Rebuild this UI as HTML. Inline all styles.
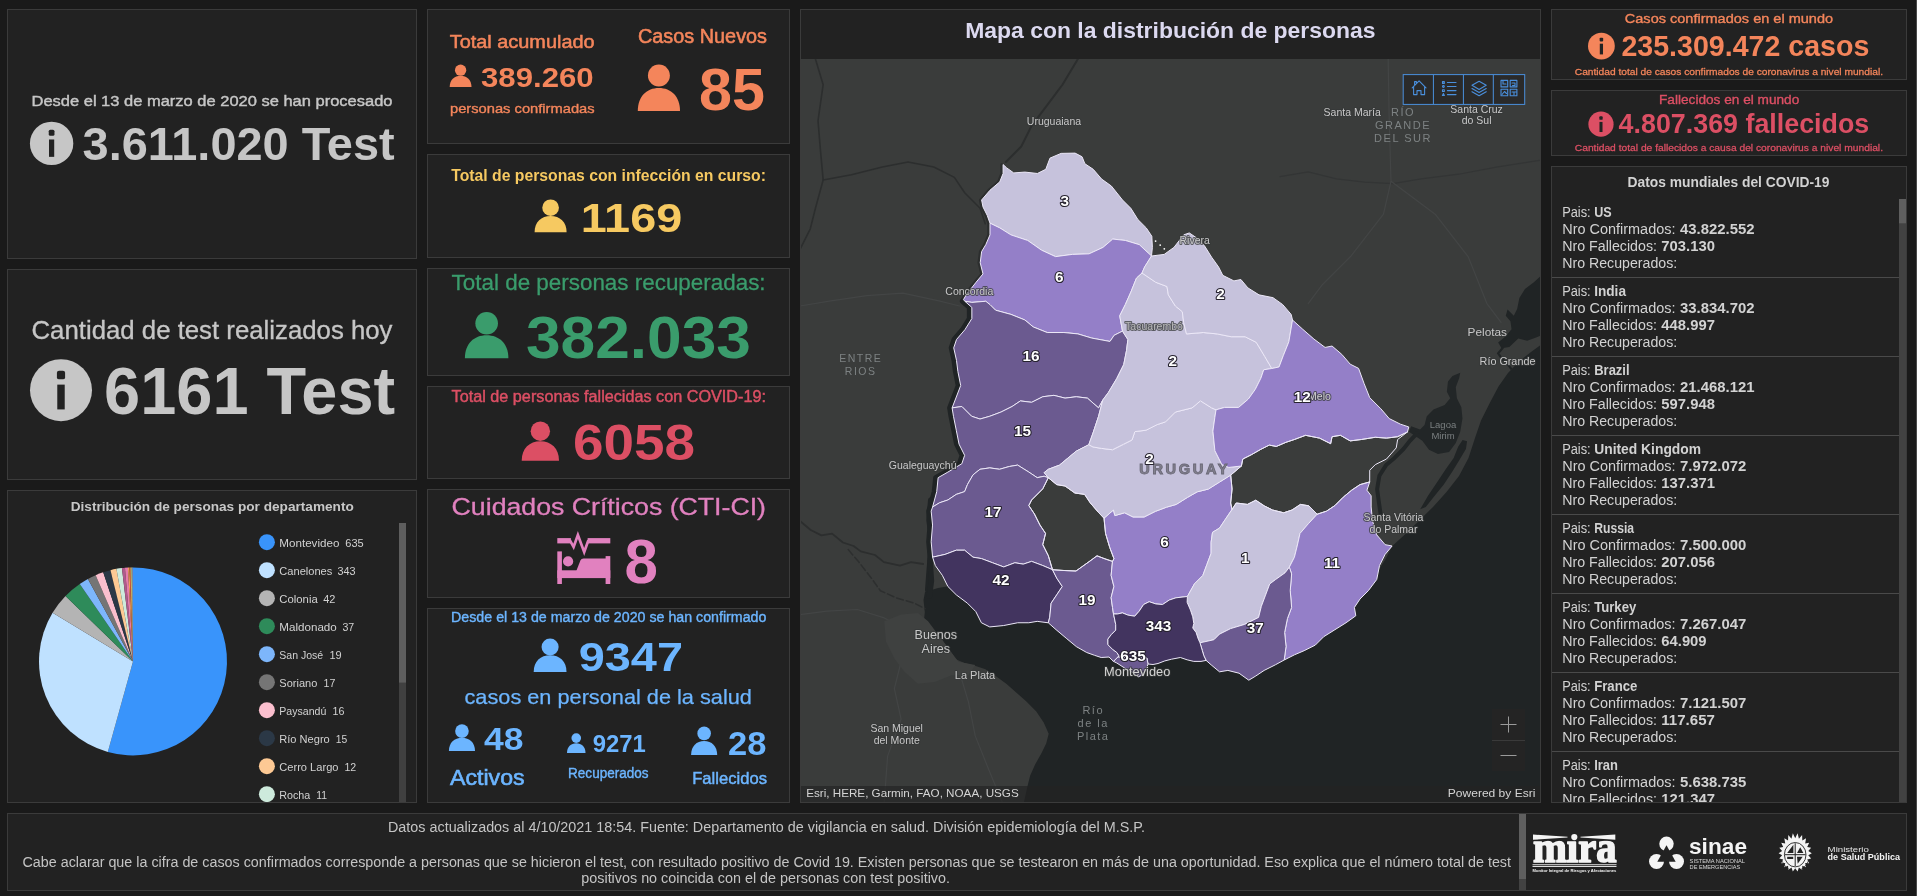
<!DOCTYPE html>
<html lang="es"><head><meta charset="utf-8"><title>Visualizador COVID-19 Uruguay</title>
<style>
html,body{margin:0;padding:0;background:#1a1a1a;overflow:hidden}
body{width:1917px;height:896px;position:relative;font-family:'Liberation Sans',Arial,sans-serif}
.panel{position:absolute;box-sizing:border-box;background:#222222;border:1px solid #3b3b3b;overflow:hidden}
.ps{position:absolute;left:-1px;top:-1px;display:block;will-change:transform;font-family:'Liberation Sans',Arial,sans-serif}
text{white-space:pre}
</style></head>
<body>
<div class="panel" style="left:7px;top:9px;width:410px;height:250px;"><svg class="ps" width="410" height="250" viewBox="7 9 410 250"><text x="31.5" y="106.2" font-size="15.36" textLength="361" lengthAdjust="spacingAndGlyphs" fill="#c6c6c6" stroke="#c6c6c6" stroke-width="0.43">Desde el 13 de marzo de 2020 se han procesado</text><circle cx="51.6" cy="143.4" r="21.7" fill="#c6c6c6"/><rect x="49" y="139.49" width="5.21" height="17.36" fill="#222222"/><rect x="48.74" y="129.73" width="5.73" height="6.08" rx="1.52" fill="#222222"/><text x="82.6" y="160.3" font-size="46.9" textLength="312" lengthAdjust="spacingAndGlyphs" fill="#c6c6c6" font-weight="bold">3.611.020 Test</text></svg></div>
<div class="panel" style="left:7px;top:269px;width:410px;height:211px;"><svg class="ps" width="410" height="211" viewBox="7 269 410 211"><text x="31.5" y="338.6" font-size="25.65" textLength="361" lengthAdjust="spacingAndGlyphs" fill="#c6c6c6" stroke="#c6c6c6" stroke-width="0.33">Cantidad de test realizados hoy</text><circle cx="61" cy="390.2" r="31" fill="#c6c6c6"/><rect x="57.28" y="384.62" width="7.44" height="24.8" fill="#222222"/><rect x="56.91" y="370.67" width="8.18" height="8.68" rx="2.17" fill="#222222"/><text x="104.1" y="413.8" font-size="66.2" textLength="291.1" lengthAdjust="spacingAndGlyphs" fill="#c6c6c6" font-weight="bold">6161 Test</text></svg></div>
<div class="panel" style="left:7px;top:490px;width:410px;height:313px;"><svg class="ps" width="410" height="313" viewBox="7 490 410 313"><text x="70.7" y="510.9" font-size="13.62" textLength="283.1" lengthAdjust="spacingAndGlyphs" fill="#c8c8c8" font-weight="bold">Distribución de personas por departamento</text><path d="M133,661.4 L133,567.4 A94,94 0 1 1 107.8,751.96 Z" fill="#3994fb"/><path d="M133,661.4 L107.8,751.96 A94,94 0 0 1 52.58,612.73 Z" fill="#bfe1ff"/><path d="M133,661.4 L52.58,612.73 A94,94 0 0 1 65.51,595.97 Z" fill="#b4b4b4"/><path d="M133,661.4 L65.51,595.97 A94,94 0 0 1 79.77,583.92 Z" fill="#2e8b5a"/><path d="M133,661.4 L79.77,583.92 A94,94 0 0 1 87.95,578.9 Z" fill="#7db6fb"/><path d="M133,661.4 L87.95,578.9 A94,94 0 0 1 95.66,575.13 Z" fill="#757575"/><path d="M133,661.4 L95.66,575.13 A94,94 0 0 1 103.21,572.25 Z" fill="#fbbfce"/><path d="M133,661.4 L103.21,572.25 A94,94 0 0 1 110.49,570.14 Z" fill="#2b3846"/><path d="M133,661.4 L110.49,570.14 A94,94 0 0 1 116.41,568.87 Z" fill="#fdc994"/><path d="M133,661.4 L116.41,568.87 A94,94 0 0 1 121.91,568.06 Z" fill="#cdeadc"/><path d="M133,661.4 L121.91,568.06 A94,94 0 0 1 124.93,567.75 Z" fill="#b05a8c"/><path d="M133,661.4 L124.93,567.75 A94,94 0 0 1 127.95,567.54 Z" fill="#e57bab"/><path d="M133,661.4 L127.95,567.54 A94,94 0 0 1 129.46,567.47 Z" fill="#f2a05c"/><path d="M133,661.4 L129.46,567.47 A94,94 0 0 1 130.47,567.43 Z" fill="#e2583e"/><path d="M133,661.4 L130.47,567.43 A94,94 0 0 1 131.48,567.41 Z" fill="#f7d06a"/><path d="M133,661.4 L131.48,567.41 A94,94 0 0 1 132.49,567.4 Z" fill="#8fd0c0"/><path d="M133,661.4 L132.49,567.4 A94,94 0 0 1 133,567.4 Z" fill="#9b8fd6"/><circle cx="266.9" cy="542.2" r="8" fill="#3994fb"/><text x="279.3" y="546.9" font-size="11.45" textLength="60.1" lengthAdjust="spacingAndGlyphs" fill="#d2d2d2">Montevideo</text><text x="345.3" y="546.9" font-size="11.13" textLength="18.4" lengthAdjust="spacingAndGlyphs" fill="#d2d2d2">635</text><circle cx="266.9" cy="570.2" r="8" fill="#bfe1ff"/><text x="279.3" y="574.9" font-size="11.45" textLength="53" lengthAdjust="spacingAndGlyphs" fill="#d2d2d2">Canelones</text><text x="337.5" y="574.9" font-size="11.13" textLength="18.1" lengthAdjust="spacingAndGlyphs" fill="#d2d2d2">343</text><circle cx="266.9" cy="598.2" r="8" fill="#b4b4b4"/><text x="279.3" y="602.9" font-size="11.45" textLength="38.4" lengthAdjust="spacingAndGlyphs" fill="#d2d2d2">Colonia</text><text x="323.2" y="602.9" font-size="11.13" textLength="12.2" lengthAdjust="spacingAndGlyphs" fill="#d2d2d2">42</text><circle cx="266.9" cy="626.2" r="8" fill="#2e8b5a"/><text x="279.3" y="630.9" font-size="11.45" textLength="57.5" lengthAdjust="spacingAndGlyphs" fill="#d2d2d2">Maldonado</text><text x="342.4" y="630.9" font-size="11.13" textLength="11.8" lengthAdjust="spacingAndGlyphs" fill="#d2d2d2">37</text><circle cx="266.9" cy="654.2" r="8" fill="#7db6fb"/><text x="279.3" y="658.9" font-size="11.45" textLength="43.9" lengthAdjust="spacingAndGlyphs" fill="#d2d2d2">San José</text><text x="329.5" y="658.9" font-size="11.13" textLength="12.2" lengthAdjust="spacingAndGlyphs" fill="#d2d2d2">19</text><circle cx="266.9" cy="682.2" r="8" fill="#757575"/><text x="279.3" y="686.9" font-size="11.45" textLength="38" lengthAdjust="spacingAndGlyphs" fill="#d2d2d2">Soriano</text><text x="323.6" y="686.9" font-size="11.13" textLength="11.8" lengthAdjust="spacingAndGlyphs" fill="#d2d2d2">17</text><circle cx="266.9" cy="710.2" r="8" fill="#fbbfce"/><text x="279.3" y="714.9" font-size="11.45" textLength="47" lengthAdjust="spacingAndGlyphs" fill="#d2d2d2">Paysandú</text><text x="332.6" y="714.9" font-size="11.13" textLength="11.9" lengthAdjust="spacingAndGlyphs" fill="#d2d2d2">16</text><circle cx="266.9" cy="738.2" r="8" fill="#2b3846"/><text x="279.3" y="742.9" font-size="11.45" textLength="50.5" lengthAdjust="spacingAndGlyphs" fill="#d2d2d2">Río Negro</text><text x="335.7" y="742.9" font-size="11.13" textLength="11.5" lengthAdjust="spacingAndGlyphs" fill="#d2d2d2">15</text><circle cx="266.9" cy="766.2" r="8" fill="#fdc994"/><text x="279.3" y="770.9" font-size="11.45" textLength="59.2" lengthAdjust="spacingAndGlyphs" fill="#d2d2d2">Cerro Largo</text><text x="344.4" y="770.9" font-size="11.13" textLength="11.8" lengthAdjust="spacingAndGlyphs" fill="#d2d2d2">12</text><circle cx="266.9" cy="794.2" r="8" fill="#cdeadc"/><text x="279.3" y="798.9" font-size="11.45" textLength="31" lengthAdjust="spacingAndGlyphs" fill="#d2d2d2">Rocha</text><text x="316.2" y="798.9" font-size="11.13" textLength="10.8" lengthAdjust="spacingAndGlyphs" fill="#d2d2d2">11</text><rect x="399" y="523" width="7" height="279" fill="#404040"/><rect x="399" y="523" width="7" height="159.6" fill="#5e5e5e"/></svg></div>
<div class="panel" style="left:427px;top:9px;width:363px;height:135px;"><svg class="ps" width="363" height="135" viewBox="427 9 363 135"><text x="449.7" y="47.8" font-size="19.13" textLength="144.9" lengthAdjust="spacingAndGlyphs" fill="#f4855b" stroke="#f4855b" stroke-width="0.54">Total acumulado</text><circle cx="460.6" cy="70.17" r="5.67" fill="#f4855b"/><path d="M449.7,87 C449.7,79.93 454.28,75.86 460.6,75.86 C466.92,75.86 471.5,79.93 471.5,87 Z" fill="#f4855b"/><text x="481" y="87" font-size="28.45" textLength="112.6" lengthAdjust="spacingAndGlyphs" fill="#f4855b" font-weight="bold">389.260</text><text x="450" y="112.8" font-size="12.97" textLength="144.6" lengthAdjust="spacingAndGlyphs" fill="#f4855b" stroke="#f4855b" stroke-width="0.36">personas confirmadas</text><text x="638" y="43" font-size="19.57" textLength="129" lengthAdjust="spacingAndGlyphs" fill="#f4855b" stroke="#f4855b" stroke-width="0.55">Casos Nuevos</text><circle cx="658.9" cy="75.47" r="10.97" fill="#f4855b"/><path d="M637.8,110.9 C637.8,96.31 646.66,87.93 658.9,87.93 C671.14,87.93 680,96.31 680,110.9 Z" fill="#f4855b"/><text x="699.1" y="110.3" font-size="58.73" textLength="65.9" lengthAdjust="spacingAndGlyphs" fill="#f4855b" font-weight="bold">85</text></svg></div>
<div class="panel" style="left:427px;top:154px;width:363px;height:104px;"><svg class="ps" width="363" height="104" viewBox="427 154 363 104"><text x="451.2" y="181" font-size="16.38" textLength="314.8" lengthAdjust="spacingAndGlyphs" fill="#f6c961" font-weight="bold">Total de personas con infección en curso:</text><circle cx="550.6" cy="207.72" r="8.32" fill="#f6c961"/><path d="M534.6,232.2 C534.6,221.89 541.32,215.96 550.6,215.96 C559.88,215.96 566.6,221.89 566.6,232.2 Z" fill="#f6c961"/><text x="580.7" y="231.6" font-size="41.27" textLength="101.5" lengthAdjust="spacingAndGlyphs" fill="#f6c961" font-weight="bold">1169</text></svg></div>
<div class="panel" style="left:427px;top:268px;width:363px;height:108px;"><svg class="ps" width="363" height="108" viewBox="427 268 363 108"><text x="451.6" y="290.2" font-size="22.75" textLength="314" lengthAdjust="spacingAndGlyphs" fill="#3a9c6c" stroke="#3a9c6c" stroke-width="0.3">Total de personas recuperadas:</text><circle cx="486.65" cy="323.31" r="11.31" fill="#3a9c6c"/><path d="M464.9,358.2 C464.9,343.67 474.04,335.33 486.65,335.33 C499.26,335.33 508.4,343.67 508.4,358.2 Z" fill="#3a9c6c"/><text x="526" y="357.5" font-size="60" textLength="224.9" lengthAdjust="spacingAndGlyphs" fill="#3a9c6c" font-weight="bold">382.033</text></svg></div>
<div class="panel" style="left:427px;top:386px;width:363px;height:93px;"><svg class="ps" width="363" height="93" viewBox="427 386 363 93"><text x="451.6" y="402.4" font-size="15.65" textLength="314.4" lengthAdjust="spacingAndGlyphs" fill="#dc4f64" stroke="#dc4f64" stroke-width="0.44">Total de personas fallecidas con COVID-19:</text><circle cx="540.35" cy="431.2" r="9.7" fill="#dc4f64"/><path d="M521.7,460.7 C521.7,448.38 529.53,441.3 540.35,441.3 C551.17,441.3 559,448.38 559,460.7 Z" fill="#dc4f64"/><text x="573" y="459.7" font-size="49.3" textLength="122" lengthAdjust="spacingAndGlyphs" fill="#dc4f64" font-weight="bold">6058</text></svg></div>
<div class="panel" style="left:427px;top:489px;width:363px;height:109px;"><svg class="ps" width="363" height="109" viewBox="427 489 363 109"><text x="451.6" y="514.5" font-size="24.78" textLength="314.4" lengthAdjust="spacingAndGlyphs" fill="#e181bf" stroke="#e181bf" stroke-width="0.32">Cuidados Críticos (CTI-CI)</text><rect x="557.3" y="538.1" width="13.6" height="5.3" fill="#e181bf"/><rect x="587.6" y="538.1" width="22.7" height="5.3" fill="#e181bf"/><polyline points="569.8,540.2 573.6,547 577.9,535 584.2,552 588.4,540.2" fill="none" stroke="#e181bf" stroke-width="2.7" stroke-linejoin="miter" stroke-miterlimit="6"/><rect x="557.3" y="551.4" width="4.6" height="32.6" fill="#e181bf"/><rect x="557.3" y="570.3" width="53" height="7.8" fill="#e181bf"/><rect x="605.6" y="556.1" width="4.7" height="27.9" fill="#e181bf"/><circle cx="568.1" cy="561.4" r="5.1" fill="#e181bf"/><path d="M576.3,571 L580.4,560.5 Q581.2,558.6 583.5,558.6 L606,558.6 L606,571 Z" fill="#e181bf"/><text x="624.6" y="583.2" font-size="63.52" textLength="33.4" lengthAdjust="spacingAndGlyphs" fill="#e181bf" font-weight="bold">8</text></svg></div>
<div class="panel" style="left:427px;top:608px;width:363px;height:195px;"><svg class="ps" width="363" height="195" viewBox="427 608 363 195"><text x="451.1" y="622" font-size="14.06" textLength="315.3" lengthAdjust="spacingAndGlyphs" fill="#6cb5ff" stroke="#6cb5ff" stroke-width="0.39">Desde el 13 de marzo de 2020 se han confirmado</text><circle cx="550.1" cy="646.93" r="8.53" fill="#6cb5ff"/><path d="M533.7,671.9 C533.7,661.37 540.59,655.32 550.1,655.32 C559.61,655.32 566.5,661.37 566.5,671.9 Z" fill="#6cb5ff"/><text x="578.7" y="671.2" font-size="41.55" textLength="104.3" lengthAdjust="spacingAndGlyphs" fill="#6cb5ff" font-weight="bold">9347</text><text x="464.5" y="704.2" font-size="19.59" textLength="287.4" lengthAdjust="spacingAndGlyphs" fill="#6cb5ff" stroke="#6cb5ff" stroke-width="0.25">casos en personal de la salud</text><circle cx="461.95" cy="731.09" r="6.79" fill="#6cb5ff"/><path d="M448.9,751.1 C448.9,742.67 454.38,737.83 461.95,737.83 C469.52,737.83 475,742.67 475,751.1 Z" fill="#6cb5ff"/><text x="483.9" y="750" font-size="31.41" textLength="39.5" lengthAdjust="spacingAndGlyphs" fill="#6cb5ff" font-weight="bold">48</text><text x="450" y="784.6" font-size="22.61" textLength="74.6" lengthAdjust="spacingAndGlyphs" fill="#6cb5ff" stroke="#6cb5ff" stroke-width="0.63">Activos</text><circle cx="576.25" cy="738.11" r="4.81" fill="#6cb5ff"/><path d="M567,752.9 C567,746.74 570.89,743.2 576.25,743.2 C581.61,743.2 585.5,746.74 585.5,752.9 Z" fill="#6cb5ff"/><text x="592.7" y="752.2" font-size="23.52" textLength="53.1" lengthAdjust="spacingAndGlyphs" fill="#6cb5ff" font-weight="bold">9271</text><text x="568.1" y="777.5" font-size="13.91" textLength="80.4" lengthAdjust="spacingAndGlyphs" fill="#6cb5ff" stroke="#6cb5ff" stroke-width="0.39">Recuperados</text><circle cx="704.15" cy="733.39" r="6.79" fill="#6cb5ff"/><path d="M691.1,755.1 C691.1,746.14 696.58,740.99 704.15,740.99 C711.72,740.99 717.2,746.14 717.2,755.1 Z" fill="#6cb5ff"/><text x="728" y="754.5" font-size="33.66" textLength="38.4" lengthAdjust="spacingAndGlyphs" fill="#6cb5ff" font-weight="bold">28</text><text x="692.2" y="783.9" font-size="16.81" textLength="74.8" lengthAdjust="spacingAndGlyphs" fill="#6cb5ff" stroke="#6cb5ff" stroke-width="0.47">Fallecidos</text></svg></div>
<div class="panel" style="left:1551px;top:9px;width:356px;height:71px;"><svg class="ps" width="356" height="71" viewBox="1551 9 356 71"><text x="1624.8" y="22.8" font-size="13.48" textLength="208.3" lengthAdjust="spacingAndGlyphs" fill="#f4855b" stroke="#f4855b" stroke-width="0.38">Casos confirmados en el mundo</text><circle cx="1601.4" cy="46.1" r="13.4" fill="#f4855b"/><rect x="1599.79" y="43.69" width="3.22" height="10.72" fill="#222222"/><rect x="1599.63" y="37.66" width="3.54" height="3.75" rx="0.94" fill="#222222"/><text x="1621.4" y="56.1" font-size="28.87" textLength="247.9" lengthAdjust="spacingAndGlyphs" fill="#f4855b" font-weight="bold">235.309.472 casos</text><text x="1574.8" y="75" font-size="9.71" textLength="308.2" lengthAdjust="spacingAndGlyphs" fill="#f4855b" stroke="#f4855b" stroke-width="0.27">Cantidad total de casos confirmados de coronavirus a nivel mundial.</text></svg></div>
<div class="panel" style="left:1551px;top:90px;width:356px;height:66px;"><svg class="ps" width="356" height="66" viewBox="1551 90 356 66"><text x="1659" y="104" font-size="13.33" textLength="140.3" lengthAdjust="spacingAndGlyphs" fill="#dc4f64" stroke="#dc4f64" stroke-width="0.37">Fallecidos en el mundo</text><circle cx="1601" cy="124.2" r="12.6" fill="#dc4f64"/><rect x="1599.49" y="121.93" width="3.02" height="10.08" fill="#222222"/><rect x="1599.34" y="116.26" width="3.33" height="3.53" rx="0.88" fill="#222222"/><text x="1618.6" y="133.3" font-size="27.32" textLength="250.7" lengthAdjust="spacingAndGlyphs" fill="#dc4f64" font-weight="bold">4.807.369 fallecidos</text><text x="1574.8" y="151.1" font-size="9.86" textLength="308.2" lengthAdjust="spacingAndGlyphs" fill="#dc4f64" stroke="#dc4f64" stroke-width="0.28">Cantidad total de fallecidos a causa del coronavirus a nivel mundial.</text></svg></div>
<div class="panel" style="left:1551px;top:166px;width:356px;height:637px;"><svg class="ps" width="356" height="637" viewBox="1551 166 356 637"><text x="1627.6" y="186.9" font-size="13.91" textLength="201.9" lengthAdjust="spacingAndGlyphs" fill="#d2d2d2" font-weight="bold">Datos mundiales del COVID-19</text><g><text x="1562.2" y="217" font-size="13.91" textLength="28.5" lengthAdjust="spacingAndGlyphs" fill="#d2d2d2">Pais:</text><text x="1594.2" y="217" font-size="13.91" textLength="17.5" lengthAdjust="spacingAndGlyphs" fill="#d2d2d2" font-weight="bold">US</text><text x="1562.2" y="233.7" font-size="13.91" textLength="113.3" lengthAdjust="spacingAndGlyphs" fill="#d2d2d2">Nro Confirmados:</text><text x="1680" y="233.7" font-size="13.8" textLength="74.6" lengthAdjust="spacingAndGlyphs" fill="#d2d2d2" font-weight="bold">43.822.552</text><text x="1562.2" y="250.9" font-size="13.91" textLength="94.8" lengthAdjust="spacingAndGlyphs" fill="#d2d2d2">Nro Fallecidos:</text><text x="1661.3" y="250.9" font-size="13.8" textLength="53.6" lengthAdjust="spacingAndGlyphs" fill="#d2d2d2" font-weight="bold">703.130</text><text x="1562.2" y="268.1" font-size="13.91" textLength="115.1" lengthAdjust="spacingAndGlyphs" fill="#d2d2d2">Nro Recuperados:</text></g><rect x="1552" y="277" width="347" height="1" fill="#4a4a4a"/><g><text x="1562.2" y="296" font-size="13.91" textLength="28.5" lengthAdjust="spacingAndGlyphs" fill="#d2d2d2">Pais:</text><text x="1594.2" y="296" font-size="13.91" textLength="31.8" lengthAdjust="spacingAndGlyphs" fill="#d2d2d2" font-weight="bold">India</text><text x="1562.2" y="312.7" font-size="13.91" textLength="113.3" lengthAdjust="spacingAndGlyphs" fill="#d2d2d2">Nro Confirmados:</text><text x="1680" y="312.7" font-size="13.8" textLength="74.6" lengthAdjust="spacingAndGlyphs" fill="#d2d2d2" font-weight="bold">33.834.702</text><text x="1562.2" y="329.9" font-size="13.91" textLength="94.8" lengthAdjust="spacingAndGlyphs" fill="#d2d2d2">Nro Fallecidos:</text><text x="1661.3" y="329.9" font-size="13.8" textLength="53.6" lengthAdjust="spacingAndGlyphs" fill="#d2d2d2" font-weight="bold">448.997</text><text x="1562.2" y="347.1" font-size="13.91" textLength="115.1" lengthAdjust="spacingAndGlyphs" fill="#d2d2d2">Nro Recuperados:</text></g><rect x="1552" y="356" width="347" height="1" fill="#4a4a4a"/><g><text x="1562.2" y="375" font-size="13.91" textLength="28.5" lengthAdjust="spacingAndGlyphs" fill="#d2d2d2">Pais:</text><text x="1594.2" y="375" font-size="13.91" textLength="35.4" lengthAdjust="spacingAndGlyphs" fill="#d2d2d2" font-weight="bold">Brazil</text><text x="1562.2" y="391.7" font-size="13.91" textLength="113.3" lengthAdjust="spacingAndGlyphs" fill="#d2d2d2">Nro Confirmados:</text><text x="1680" y="391.7" font-size="13.8" textLength="74.6" lengthAdjust="spacingAndGlyphs" fill="#d2d2d2" font-weight="bold">21.468.121</text><text x="1562.2" y="408.9" font-size="13.91" textLength="94.8" lengthAdjust="spacingAndGlyphs" fill="#d2d2d2">Nro Fallecidos:</text><text x="1661.3" y="408.9" font-size="13.8" textLength="53.6" lengthAdjust="spacingAndGlyphs" fill="#d2d2d2" font-weight="bold">597.948</text><text x="1562.2" y="426.1" font-size="13.91" textLength="115.1" lengthAdjust="spacingAndGlyphs" fill="#d2d2d2">Nro Recuperados:</text></g><rect x="1552" y="435" width="347" height="1" fill="#4a4a4a"/><g><text x="1562.2" y="454" font-size="13.91" textLength="28.5" lengthAdjust="spacingAndGlyphs" fill="#d2d2d2">Pais:</text><text x="1594.2" y="454" font-size="13.91" textLength="106.9" lengthAdjust="spacingAndGlyphs" fill="#d2d2d2" font-weight="bold">United Kingdom</text><text x="1562.2" y="470.7" font-size="13.91" textLength="113.3" lengthAdjust="spacingAndGlyphs" fill="#d2d2d2">Nro Confirmados:</text><text x="1680" y="470.7" font-size="13.8" textLength="66.3" lengthAdjust="spacingAndGlyphs" fill="#d2d2d2" font-weight="bold">7.972.072</text><text x="1562.2" y="487.9" font-size="13.91" textLength="94.8" lengthAdjust="spacingAndGlyphs" fill="#d2d2d2">Nro Fallecidos:</text><text x="1661.3" y="487.9" font-size="13.8" textLength="53.6" lengthAdjust="spacingAndGlyphs" fill="#d2d2d2" font-weight="bold">137.371</text><text x="1562.2" y="505.1" font-size="13.91" textLength="115.1" lengthAdjust="spacingAndGlyphs" fill="#d2d2d2">Nro Recuperados:</text></g><rect x="1552" y="514" width="347" height="1" fill="#4a4a4a"/><g><text x="1562.2" y="533" font-size="13.91" textLength="28.5" lengthAdjust="spacingAndGlyphs" fill="#d2d2d2">Pais:</text><text x="1594.2" y="533" font-size="13.91" textLength="39.9" lengthAdjust="spacingAndGlyphs" fill="#d2d2d2" font-weight="bold">Russia</text><text x="1562.2" y="549.7" font-size="13.91" textLength="113.3" lengthAdjust="spacingAndGlyphs" fill="#d2d2d2">Nro Confirmados:</text><text x="1680" y="549.7" font-size="13.8" textLength="66.3" lengthAdjust="spacingAndGlyphs" fill="#d2d2d2" font-weight="bold">7.500.000</text><text x="1562.2" y="566.9" font-size="13.91" textLength="94.8" lengthAdjust="spacingAndGlyphs" fill="#d2d2d2">Nro Fallecidos:</text><text x="1661.3" y="566.9" font-size="13.8" textLength="53.6" lengthAdjust="spacingAndGlyphs" fill="#d2d2d2" font-weight="bold">207.056</text><text x="1562.2" y="584.1" font-size="13.91" textLength="115.1" lengthAdjust="spacingAndGlyphs" fill="#d2d2d2">Nro Recuperados:</text></g><rect x="1552" y="593" width="347" height="1" fill="#4a4a4a"/><g><text x="1562.2" y="612" font-size="13.91" textLength="28.5" lengthAdjust="spacingAndGlyphs" fill="#d2d2d2">Pais:</text><text x="1594.2" y="612" font-size="13.91" textLength="42.1" lengthAdjust="spacingAndGlyphs" fill="#d2d2d2" font-weight="bold">Turkey</text><text x="1562.2" y="628.7" font-size="13.91" textLength="113.3" lengthAdjust="spacingAndGlyphs" fill="#d2d2d2">Nro Confirmados:</text><text x="1680" y="628.7" font-size="13.8" textLength="66.3" lengthAdjust="spacingAndGlyphs" fill="#d2d2d2" font-weight="bold">7.267.047</text><text x="1562.2" y="645.9" font-size="13.91" textLength="94.8" lengthAdjust="spacingAndGlyphs" fill="#d2d2d2">Nro Fallecidos:</text><text x="1661.3" y="645.9" font-size="13.8" textLength="45.3" lengthAdjust="spacingAndGlyphs" fill="#d2d2d2" font-weight="bold">64.909</text><text x="1562.2" y="663.1" font-size="13.91" textLength="115.1" lengthAdjust="spacingAndGlyphs" fill="#d2d2d2">Nro Recuperados:</text></g><rect x="1552" y="672" width="347" height="1" fill="#4a4a4a"/><g><text x="1562.2" y="691" font-size="13.91" textLength="28.5" lengthAdjust="spacingAndGlyphs" fill="#d2d2d2">Pais:</text><text x="1594.2" y="691" font-size="13.91" textLength="43.2" lengthAdjust="spacingAndGlyphs" fill="#d2d2d2" font-weight="bold">France</text><text x="1562.2" y="707.7" font-size="13.91" textLength="113.3" lengthAdjust="spacingAndGlyphs" fill="#d2d2d2">Nro Confirmados:</text><text x="1680" y="707.7" font-size="13.8" textLength="66.3" lengthAdjust="spacingAndGlyphs" fill="#d2d2d2" font-weight="bold">7.121.507</text><text x="1562.2" y="724.9" font-size="13.91" textLength="94.8" lengthAdjust="spacingAndGlyphs" fill="#d2d2d2">Nro Fallecidos:</text><text x="1661.3" y="724.9" font-size="13.8" textLength="53.6" lengthAdjust="spacingAndGlyphs" fill="#d2d2d2" font-weight="bold">117.657</text><text x="1562.2" y="742.1" font-size="13.91" textLength="115.1" lengthAdjust="spacingAndGlyphs" fill="#d2d2d2">Nro Recuperados:</text></g><rect x="1552" y="751" width="347" height="1" fill="#4a4a4a"/><g><text x="1562.2" y="770" font-size="13.91" textLength="28.5" lengthAdjust="spacingAndGlyphs" fill="#d2d2d2">Pais:</text><text x="1594.2" y="770" font-size="13.91" textLength="23.8" lengthAdjust="spacingAndGlyphs" fill="#d2d2d2" font-weight="bold">Iran</text><text x="1562.2" y="786.7" font-size="13.91" textLength="113.3" lengthAdjust="spacingAndGlyphs" fill="#d2d2d2">Nro Confirmados:</text><text x="1680" y="786.7" font-size="13.8" textLength="66.3" lengthAdjust="spacingAndGlyphs" fill="#d2d2d2" font-weight="bold">5.638.735</text><text x="1562.2" y="803.9" font-size="13.91" textLength="94.8" lengthAdjust="spacingAndGlyphs" fill="#d2d2d2">Nro Fallecidos:</text><text x="1661.3" y="803.9" font-size="13.8" textLength="53.6" lengthAdjust="spacingAndGlyphs" fill="#d2d2d2" font-weight="bold">121.347</text><text x="1562.2" y="821.1" font-size="13.91" textLength="115.1" lengthAdjust="spacingAndGlyphs" fill="#d2d2d2">Nro Recuperados:</text></g><rect x="1899" y="199" width="7" height="603" fill="#424242"/><rect x="1899" y="199" width="7" height="24.3" fill="#5f5f5f"/></svg></div>
<div class="panel" style="left:7px;top:813px;width:1900px;height:78px;"><svg class="ps" width="1900" height="78" viewBox="7 813 1900 78"><text x="388" y="832" font-size="13.77" textLength="757" lengthAdjust="spacingAndGlyphs" fill="#c4c4c4">Datos actualizados al 4/10/2021 18:54. Fuente: Departamento de vigilancia en salud. División epidemiología del M.S.P.</text><text x="22.5" y="866.6" font-size="13.77" textLength="1488.5" lengthAdjust="spacingAndGlyphs" fill="#c4c4c4">Cabe aclarar que la cifra de casos confirmados corresponde a personas que se hicieron el test, con resultado positivo de Covid 19. Existen personas que se testearon en más de una oportunidad. Eso explica que el número total de test</text><text x="581.3" y="883.4" font-size="13.77" textLength="368.7" lengthAdjust="spacingAndGlyphs" fill="#c4c4c4">positivos no coincida con el de personas con test positivo.</text><rect x="1519" y="814" width="7" height="76" fill="#424242"/><rect x="1519" y="814" width="7" height="65" fill="#5f5f5f"/><polygon points="1533,834.6 1533,839.8 1567.5,837.6 1567.5,836.8" fill="#f4f4f4"/><polygon points="1615.3,834.6 1615.3,839.8 1580.5,837.6 1580.5,836.8" fill="#f4f4f4"/><circle cx="1574.3" cy="837.1" r="3.1" fill="#f4f4f4"/><clipPath id="mclip"><rect x="1525" y="840.6" width="100" height="30"/></clipPath><text clip-path="url(#mclip)" x="1533" y="862.4" font-family="'Liberation Serif', serif" font-weight="bold" font-size="45" textLength="83.5" lengthAdjust="spacingAndGlyphs" fill="#f4f4f4" stroke="#f4f4f4" stroke-width="1.7" stroke-linejoin="round">mira</text><rect x="1532.5" y="864.3" width="84" height="0.9" fill="#f4f4f4"/><rect x="1532.5" y="866" width="84" height="0.9" fill="#f4f4f4"/><text x="1532.5" y="871.6" font-size="4.4" font-weight="bold" textLength="83.8" lengthAdjust="spacingAndGlyphs" fill="#f4f4f4">Monitor Integral de Riesgos y Afectaciones</text><circle cx="1666.5" cy="843.8" r="7.2" fill="#f4f4f4"/><circle cx="1656.5" cy="861.5" r="7.5" fill="#f4f4f4"/><circle cx="1676.5" cy="861.5" r="7.5" fill="#f4f4f4"/><polygon points="1666.5,845.2 1657.3,861.8 1675.7,861.8" fill="#222"/><text x="1689" y="853.9" font-size="21.3" font-weight="bold" textLength="58" lengthAdjust="spacingAndGlyphs" fill="#f4f4f4">sinae</text><text x="1689.6" y="862.9" font-size="5" textLength="55.4" lengthAdjust="spacingAndGlyphs" fill="#d8d8d8">SISTEMA NACIONAL</text><text x="1689.6" y="869" font-size="5" textLength="50.7" lengthAdjust="spacingAndGlyphs" fill="#d8d8d8">DE EMERGENCIAS</text><polygon points="1811.8,853.2 1808.27,855.33 1811.13,858.44 1807.21,859.43 1809.16,863.26 1805.18,863.02 1806.07,867.26 1802.34,865.82 1802.1,870.12 1798.92,867.59 1797.56,871.61 1795.2,868.2 1792.84,871.61 1791.48,867.59 1788.3,870.12 1788.06,865.82 1784.33,867.26 1785.22,863.02 1781.24,863.26 1783.19,859.43 1779.27,858.44 1782.13,855.33 1778.6,853.2 1782.13,851.07 1779.27,847.84 1783.19,846.97 1781.24,842.71 1785.22,843.38 1784.33,838.29 1788.06,840.58 1788.3,835.04 1791.48,838.81 1792.84,833.32 1795.2,838.2 1797.56,833.32 1798.92,838.81 1802.1,835.04 1802.34,840.58 1806.07,838.29 1805.18,843.38 1809.16,842.71 1807.21,846.97 1811.13,847.84 1808.27,851.07" fill="#f4f4f4"/><ellipse cx="1795.2" cy="854.7" rx="10.8" ry="12.2" fill="none" stroke="#222" stroke-width="0.9"/><path d="M1795.2,843.2 V866.2 M1784.7,854.7 H1805.7" stroke="#222" stroke-width="1"/><polygon points="1797.0,852.9000000000001 1800.2,847.2 1803.4,852.9000000000001" fill="#222"/><polygon points="1787.2,852.9000000000001 1793.4,844.7 1793.4,852.9000000000001" fill="#222"/><polygon points="1797.0,856.7 1802.7,856.7 1797.7,863.7" fill="#222"/><rect x="1787.2" y="856.8000000000001" width="6" height="2.2" fill="#222"/><path d="M1782.2,861.2 q3,7 9,9 M1808.2,861.2 q-3,7 -9,9" stroke="#222" stroke-width="0.7" fill="none"/><text x="1827.6" y="851.8" font-size="7.7" textLength="41.3" lengthAdjust="spacingAndGlyphs" fill="#e4e4e4">Ministerio</text><text x="1827.6" y="860.2" font-size="8.2" font-weight="bold" textLength="72.4" lengthAdjust="spacingAndGlyphs" fill="#f4f4f4">de Salud Pública</text></svg></div>
<div class="panel" style="left:800px;top:9px;width:741px;height:794px;"><svg class="ps" width="741" height="794" viewBox="800 9 741 794"><rect x="800" y="59" width="741" height="743" fill="#3a3c3b"/><polygon points="925,592 923.5,600 924.8,612.2 923.5,624.6 929.7,629.6 942.1,639.5 950.8,651.9 955.8,659.3 964.4,663 974.3,665.5 985.5,669.2 996.7,676.7 1006.6,684.1 1016.5,692.8 1026.4,701.4 1036.3,711.4 1043.7,722.5 1048.7,733.7 1046.2,743.6 1041.3,753.5 1035.1,764.6 1030.1,775.8 1027.6,785.7 1024,802 1541,802 1541,344.8 1531,352 1519,361.5 1508,373 1498.5,386.5 1489.5,403.5 1481,420.5 1475,438 1468.5,458 1459,476 1446.5,492 1433,507 1419.3,520.4 1405.7,533.8 1392.3,546.1 1385,560 1350,615 1295,648 1250,655 1200,650 1150,650 1100,645 1060,620 1040,610 1000,610 962,596 950,586 938,588" fill="#202425"/><polygon points="1541.01,275.62 1533.87,282.31 1524.94,289 1519.37,297.93 1517.14,309.09 1513.79,315.78 1507.54,309.53 1505.76,315.78 1510.44,321.36 1511.56,329.17 1504.86,336.97 1498.17,342.55 1501.52,348.13 1509.33,347.01 1518.25,338.54 1527.18,340.77 1536.1,337.42 1541.01,335.41" fill="#202425"/><polyline points="1503.08,347.46 1498.17,353.26 1501.52,358.17 1508.21,364.86 1511.56,369.33" fill="none" stroke="#202425" stroke-width="2.2"/><polygon points="1460.24,372.67 1452.43,376.02 1447.97,381.6 1446.85,391.64 1450.2,398.33 1444.62,405.02 1433.47,409.49 1426.77,416.18 1424.54,425.1 1420.08,429.57 1411.16,426.22 1408.92,431.8 1415.62,436.26 1422.31,440.72 1429,449.65 1437.93,454.11 1449.09,451.88 1455.78,442.95 1460.24,431.8 1462.47,418.41 1461.36,407.26 1456.89,398.33 1455.78,387.18 1459.13,378.25" fill="#222627"/><polyline points="1417.97,432.27 1410.16,440.53 1403.47,449 1394.54,457.93 1386.06,465.07 1379.37,475.78 1377.14,489.17 1378.92,502.55 1380.71,514.82" fill="none" stroke="#222627" stroke-width="4" stroke-linejoin="round"/><polygon points="1462.59,440.08 1467.05,441.2 1465.94,449 1459.25,460.16 1452.55,471.32 1443.63,484.7 1434.7,495.86 1425.78,507.01 1420.2,509.25 1428.01,495.86 1436.93,482.47 1445.86,469.09 1453.67,457.93 1458.13,446.77" fill="#202425"/><polyline points="815.44,59 823.16,84.73 818.01,120.75 820.58,151.63 823.16,179.93 815.44,208.23 810.29,228.81 800,249.4" fill="none" stroke="#2c2e2e" stroke-width="1.6" stroke-linejoin="round" stroke-linecap="round"/><polyline points="823.16,179.93 851.46,174.78 882.33,167.06 908.06,161.92 933.79,167.06 954.38,177.36 964.67,192.79 980.11,208.23 985.25,223.67" fill="none" stroke="#2c2e2e" stroke-width="1.6" stroke-linejoin="round" stroke-linecap="round"/><polyline points="1077.88,59 1062.44,84.73 1047,105.31 1031.56,125.9 1021.27,146.48 1005.84,161.92" fill="none" stroke="#2c2e2e" stroke-width="2" stroke-linejoin="round" stroke-linecap="round"/><polyline points="1001.6,164.55 1001.6,173.48 998.25,181.85 988.49,190.22 980.12,199.99 981.51,206.96 985.7,215.33 988.49,223.15 988.49,234.87 984.3,244.63 980.12,251.61 978.72,262.77 981.51,273.93 974.54,282.3 964.77,294.85 961.98,299.6 963.38,301.27" fill="none" stroke="#2c2e2e" stroke-width="2.5" stroke-linejoin="round" stroke-linecap="round"/><polyline points="962.38,301.27 969.35,307.41 969.35,318.57 962.38,329.73 954.01,339.5 951.22,347.87 954.01,360.42 955.4,371.58 958.19,385.54 949.6,407.9 950.98,416.27 953.77,430.22 956.56,444.17 962.14,455.33 959.35,463.71 945.4,472.08 935.64,477.66 934.24,491.61 930.1,507 928.66,511.14 930.06,525.09 928.66,541.83 930.1,557.2 929,570 927.5,590" fill="none" stroke="#202425" stroke-width="5" stroke-linejoin="round" stroke-linecap="round"/><polyline points="800,521 810.7,530 821.4,535.4 832.1,533.6 842.9,542.5 853.6,546 860.7,551.4 875,555 883.9,562.1 900,565.7 911,562.1 923.2,564" fill="none" stroke="#2c2e2e" stroke-width="1.8" stroke-linejoin="round" stroke-linecap="round"/><polyline points="848.2,549.6 858.9,562.1 871.4,578.2 880.4,590.7 896.4,597.9 914.3,603.2 925,608.6" fill="none" stroke="#2d2f2f" stroke-width="1.5" stroke-linejoin="round" stroke-linecap="round" stroke-dasharray="7 3"/><polyline points="930.75,500 929.06,520.22 931.76,540.44 930.07,560.66 931.42,580.87 929.4,596.04" fill="none" stroke="#202425" stroke-width="5.5" stroke-linejoin="round" stroke-linecap="round"/><polyline points="1280,176.57 1308.22,171.87 1336.43,178.92 1364.65,182.21 1392.87,183.62 1421.08,178.92 1458.71,174.22 1496.33,167.16 1541,160.11" fill="none" stroke="#333535" stroke-width="1.2" stroke-linejoin="round" stroke-linecap="round"/><polyline points="800,306 830.88,300.86 866.9,295.71 902.92,293.14 938.94,300.86 959.52,306" fill="none" stroke="#434545" stroke-width="1.2" stroke-linejoin="round" stroke-linecap="round"/><polyline points="800,614.57 826.96,611.2 857.29,609.52 884.24,617.94 911.2,631.42 934.79,641.53" fill="none" stroke="#434545" stroke-width="1.2" stroke-linejoin="round" stroke-linecap="round"/><polyline points="911.2,631.42 901.09,661.75 894.35,688.7 901.09,719.03 887.61,756.1 884.24,801.93" fill="none" stroke="#434545" stroke-width="1.2" stroke-linejoin="round" stroke-linecap="round"/><polyline points="934.79,641.53 958.38,668.49 968.49,702.18 975.23,735.88 988.7,769.58 1002.18,801.93" fill="none" stroke="#434545" stroke-width="1.2" stroke-linejoin="round" stroke-linecap="round"/><polyline points="1388.16,59 1389.1,115.43 1390.99,181.27 1383.46,214.19 1350.54,256.52 1322.33,284.73 1308.22,303.54" fill="none" stroke="#434545" stroke-width="1.2" stroke-linejoin="round" stroke-linecap="round"/><polyline points="1390.99,181.27 1435.19,214.19 1468.11,256.52 1486.92,303.54 1501.03,322.36" fill="none" stroke="#434545" stroke-width="1.2" stroke-linejoin="round" stroke-linecap="round"/><polygon points="884.24,621.31 901.09,614.57 917.94,612.89 928.05,621.31 938.16,634.79 948.27,648.27 958.38,661.75 975.23,665.12 968.49,675.23 951.64,675.23 934.79,681.97 917.94,683.65 904.46,671.86 894.35,658.38 885.93,641.53" fill="#3f4140"/><polygon points="1003.1,164.55 1006.73,167.9 1013.71,172.92 1024.87,172.09 1037.42,173.48 1045.79,169.3 1049.98,158.14 1061.14,153.39 1075.09,153.11 1082.06,156.74 1084.85,163.72 1093.23,169.3 1101.6,179.06 1111.36,186.04 1122.52,199.99 1130.89,208.36 1137.87,219.52 1146.24,227.89 1151.82,236.26 1152.38,247.42 1151.5,256 1139.26,244.63 1125.31,240.45 1112.76,239.05 1102.99,247.42 1089.04,253.84 1072.3,254.4 1055.56,256.63 1041.61,250.21 1027.66,240.45 1010.92,234.87 999.75,227.89 989.99,223.15 987.2,215.33 983.01,206.96 981.62,199.99 989.99,190.22 999.75,181.85 1003.1,173.48 1003.1,164.55" fill="#c6c2dc" stroke="#ece8f8" stroke-width="1" stroke-linejoin="round"><title>Artigas</title></polygon><polygon points="989.99,223.15 999.75,227.89 1010.92,234.87 1027.66,240.45 1041.61,250.21 1055.56,256.63 1072.3,254.4 1089.04,253.84 1102.99,247.42 1112.76,239.05 1125.31,240.45 1139.26,244.63 1151.5,256 1144.64,266.96 1142,273 1136.47,278.11 1130.89,292.06 1125.31,304.62 1119.73,315.78 1122.5,331.1 1114.15,335.31 1109.97,341.45 1091.83,338.1 1077.88,333.92 1063.93,332.52 1047.19,332.52 1033.24,326.94 1024.87,319.97 1010.92,314.39 995.57,310.2 989.99,304.62 985.8,301.27 971.85,302.39 964.88,301.27 963.48,299.6 966.27,294.85 976.04,282.3 983.01,273.93 980.22,262.77 981.62,251.61 985.8,244.63 989.99,234.87 989.99,223.15" fill="#947fc8" stroke="#ece8f8" stroke-width="1" stroke-linejoin="round"><title>Salto</title></polygon><polygon points="964.88,301.27 971.85,302.39 985.8,301.27 989.99,304.62 995.57,310.2 1010.92,314.39 1024.87,319.97 1033.24,326.94 1047.19,332.52 1063.93,332.52 1077.88,333.92 1091.83,338.1 1109.97,341.45 1114.15,335.31 1122.5,331.1 1127.9,339.51 1126.51,350.67 1123.72,364.62 1116.74,378.57 1108.37,392.52 1102.8,400 1098.57,407.9 1087.41,398.14 1076.25,396.74 1065.09,398.14 1053.93,395.35 1042.77,396.74 1031.61,402.32 1020.45,400.93 1012.08,406.51 1000.92,412.09 989.75,416.27 979.99,419.06 971.62,416.27 961.85,406.51 952.1,407.9 960.69,385.54 957.9,371.58 956.51,360.42 953.72,347.87 956.51,339.5 964.88,329.73 971.85,318.57 971.85,307.41 964.88,301.27" fill="#6b5a90" stroke="#ece8f8" stroke-width="1" stroke-linejoin="round"><title>Paysandú</title></polygon><polygon points="952.1,407.9 961.85,406.51 971.62,416.27 979.99,419.06 989.75,416.27 1000.92,412.09 1012.08,406.51 1020.45,400.93 1031.61,402.32 1042.77,396.74 1053.93,395.35 1065.09,398.14 1076.25,396.74 1087.41,398.14 1098.57,407.9 1102.8,400 1098.57,416.27 1092.99,433.01 1088.81,444.73 1076.25,451.15 1067.88,458.12 1059.51,465.1 1048.35,469.29 1044.16,472.63 1048.3,477.7 1044.16,476.26 1037.19,477.66 1028.82,472.08 1017.66,465.1 1009.29,466.5 999.52,469.29 989.75,467.89 979.99,469.29 973.01,474.87 967.43,484.63 964.64,491.61 956.27,494.4 947.9,499.98 939.53,502.77 932.6,507 936.74,491.61 938.14,477.66 947.9,472.08 961.85,463.71 964.64,455.33 959.06,444.17 956.27,430.22 953.48,416.27 952.1,407.9" fill="#6b5a90" stroke="#ece8f8" stroke-width="1" stroke-linejoin="round"><title>Río Negro</title></polygon><polygon points="932.6,507 939.53,502.77 947.9,499.98 956.27,494.4 964.64,491.61 967.43,484.63 973.01,474.87 979.99,469.29 989.75,467.89 999.52,469.29 1009.29,466.5 1017.66,465.1 1028.82,472.08 1037.19,477.66 1044.16,476.26 1048.3,477.7 1042.77,488.82 1031.61,499.98 1028.82,505.56 1034.4,513.93 1039.98,525.09 1045.56,533.46 1042.77,544.62 1048.35,555.78 1052.5,569.7 1042.77,565.55 1031.61,561.36 1023.24,564.15 1014.87,562.76 1003.71,566.94 992.54,562.76 981.38,558.57 973.01,557.18 964.64,550.2 956.27,550.2 945.11,554.39 932.6,557.2 931.16,541.83 932.56,525.09 931.16,511.14 932.6,507" fill="#6b5a90" stroke="#ece8f8" stroke-width="1" stroke-linejoin="round"><title>Soriano</title></polygon><polygon points="932.6,557.2 945.11,554.39 956.27,550.2 964.64,550.2 973.01,557.18 981.38,558.57 992.54,562.76 1003.71,566.94 1014.87,562.76 1023.24,564.15 1031.61,561.36 1042.77,565.55 1052.5,569.7 1056.72,578.1 1062.3,586.47 1056.72,594.84 1051.14,603.21 1049.74,617.17 1048.3,622.8 1037.19,621.35 1028.82,622.75 1017.66,622.75 1003.71,625.54 989.75,626.93 981.38,622.75 975.8,611.58 967.43,603.21 956.27,594.84 947.9,586.47 942.32,575.31 935.35,565.55 932.6,557.2" fill="#42345f" stroke="#ece8f8" stroke-width="1" stroke-linejoin="round"><title>Colonia</title></polygon><polygon points="1052.5,569.7 1064,570.5 1076,571 1083,566 1090,561 1097,555.8 1104,558.5 1112.5,561.4 1111.13,575.31 1113.92,586.47 1111.13,597.63 1112.52,607.4 1113.5,614 1114.6,619.02 1115.71,624.6 1115.71,630.18 1111.25,634.64 1107.9,639.11 1107.9,644.69 1112.37,649.15 1116.83,652.5 1119.06,655.85 1117.9,657 1113.5,661.4 1113.5,661.4 1109,657 1101.2,657.5 1094.5,655.3 1086.7,652.5 1076.3,646.6 1066.2,638.2 1056.1,629.7 1048.3,622.8 1049.74,617.17 1051.14,603.21 1056.72,594.84 1062.3,586.47 1056.72,578.1 1052.5,569.7" fill="#6b5a90" stroke="#ece8f8" stroke-width="1" stroke-linejoin="round"><title>San José</title></polygon><polygon points="1104,518.2 1113.48,509.99 1114.88,515.57 1124.64,512.78 1133.01,516.96 1144.17,516.96 1155.33,511.38 1166.5,507.2 1176.26,504.41 1187.42,497.43 1197.19,491.85 1208.35,489.06 1219.51,482.09 1230.7,475.1 1232.06,489.06 1230.67,503.01 1232,509.5 1225.09,519.75 1219.51,528.12 1212.53,532.31 1211.14,542.08 1211.14,553.24 1206.95,564.4 1202.77,575.56 1194.4,583.93 1187.4,596.5 1175.98,597.81 1169.29,600.04 1162.59,604.51 1155.89,603.95 1149.2,601.72 1143.62,604.51 1139.15,611.21 1134.69,616.23 1127.99,615.11 1122.41,612.88 1117.39,614 1113.5,614 1112.52,607.4 1111.13,597.63 1113.92,586.47 1111.13,575.31 1112.5,561.4 1113.92,558.57 1109.73,547.41 1105.55,533.46 1104,518.2" fill="#947fc8" stroke="#ece8f8" stroke-width="1" stroke-linejoin="round"><title>Florida</title></polygon><polygon points="1048.3,477.7 1044.16,472.63 1048.35,469.29 1059.51,465.1 1067.88,458.12 1076.25,451.15 1088.81,444.73 1092.99,446.96 1101.36,448.36 1112.52,449.75 1123.68,444.17 1132.05,439.99 1134.84,431.62 1146,430.22 1157.17,424.64 1165.54,421.85 1175.33,412.05 1192.08,407.87 1200.45,400.89 1211.61,407.87 1216,409.8 1214.88,417.19 1212.92,431.14 1214.88,450.67 1221.85,464.62 1228.83,467.41 1241.4,466 1230.7,475.1 1219.51,482.09 1208.35,489.06 1197.19,491.85 1187.42,497.43 1176.26,504.41 1166.5,507.2 1155.33,511.38 1144.17,516.96 1133.01,516.96 1124.64,512.78 1114.88,515.57 1113.48,509.99 1104,518.2 1098.57,512.53 1090.2,502.77 1084.62,494.4 1074.85,493 1065.09,486.03 1056.72,484.63 1048.3,477.7" fill="#c6c2dc" stroke="#ece8f8" stroke-width="1" stroke-linejoin="round"><title>Durazno</title></polygon><polygon points="1142,273 1155.8,282.31 1166.96,286.5 1168.36,294.87 1175.33,306.03 1182.31,311.61 1183.71,322.77 1186.5,333.93 1203.24,332.53 1217.19,333.93 1231.14,336.72 1245.09,336.72 1256.25,342.3 1264.62,356.25 1271.8,368.5 1263.71,369.75 1260.92,378.12 1255.33,389.29 1248.36,399.05 1238.59,407.42 1224.64,407.42 1216,409.8 1211.61,407.87 1200.45,400.89 1192.08,407.87 1175.33,412.05 1165.54,421.85 1157.17,424.64 1146,430.22 1134.84,431.62 1132.05,439.99 1123.68,444.17 1112.52,449.75 1101.36,448.36 1092.99,446.96 1088.81,444.73 1092.99,433.01 1098.57,416.27 1102.8,400 1108.37,392.52 1116.74,378.57 1123.72,364.62 1126.51,350.67 1127.9,339.51 1122.5,331.1 1119.73,315.78 1125.31,304.62 1130.89,292.06 1136.47,278.11 1142,273" fill="#c6c2dc" stroke="#ece8f8" stroke-width="1" stroke-linejoin="round"><title>Tacuarembó</title></polygon><polygon points="1151.5,256 1164.17,254.41 1173.94,247.43 1183.71,234.88 1189.29,232.92 1196.26,237.67 1204.63,246.04 1211.61,257.2 1218.58,266.96 1222.77,275.33 1233.93,280.92 1240.9,279.52 1247.88,287.89 1259.04,294.87 1272.99,297.66 1282.76,304.63 1291.13,314.4 1292.5,320 1288.82,341.85 1283.24,355.8 1279.05,366.96 1271.8,368.5 1264.62,356.25 1256.25,342.3 1245.09,336.72 1231.14,336.72 1217.19,333.93 1203.24,332.53 1186.5,333.93 1183.71,322.77 1182.31,311.61 1175.33,306.03 1168.36,294.87 1166.96,286.5 1155.8,282.31 1142,273 1144.64,266.96 1151.5,256" fill="#c6c2dc" stroke="#ece8f8" stroke-width="1" stroke-linejoin="round"><title>Rivera</title></polygon><polygon points="1292.5,320 1302.77,329.3 1313.93,339.06 1325.09,347.43 1332.06,346.04 1341.83,354.41 1350.2,364.17 1358.57,368.36 1364.15,383.71 1369.73,397.66 1380.89,408.82 1389.26,418.58 1400.42,424.16 1408.79,426.95 1407.4,432 1397.63,436.72 1386.47,438.11 1375.31,437.28 1361.36,439.51 1350.2,440.9 1340.44,435.32 1332.06,436.72 1330.67,443.69 1319.51,438.11 1305.56,435.32 1294.4,439.51 1286.03,442.3 1276.26,446.48 1269.29,445.09 1260.92,449.27 1251.15,454.85 1242.78,459.04 1241.4,466 1228.83,467.41 1221.85,464.62 1214.88,450.67 1212.92,431.14 1214.88,417.19 1216,409.8 1224.64,407.42 1238.59,407.42 1248.36,399.05 1255.33,389.29 1260.92,378.12 1263.71,369.75 1271.8,368.5 1279.05,366.96 1283.24,355.8 1288.82,341.85 1292.5,320" fill="#947fc8" stroke="#ece8f8" stroke-width="1" stroke-linejoin="round"><title>Cerro Largo</title></polygon><polygon points="1232,509.5 1236.25,503.01 1247.41,504.41 1255.78,500.22 1264.15,505.8 1272.52,509.99 1283.68,512.78 1292.05,509.99 1300.42,504.41 1308.79,505.8 1317.2,514.2 1308.36,523.71 1299.99,533.47 1297.2,546.03 1294.41,557.19 1289.3,567.2 1285.08,572.77 1275.31,579.74 1269.73,583.93 1265.55,595.09 1261.36,606.25 1258.57,617.41 1244.62,624.39 1230.67,628.57 1219.51,634.15 1213.93,639.73 1200,642.8 1198.3,639.11 1196.07,632.41 1192.72,627.95 1193.84,623.48 1192.72,616.79 1190.49,610.09 1187.14,602.28 1187.4,596.5 1194.4,583.93 1202.77,575.56 1206.95,564.4 1211.14,553.24 1211.14,542.08 1212.53,532.31 1219.51,528.12 1225.09,519.75 1232,509.5" fill="#c6c2dc" stroke="#ece8f8" stroke-width="1" stroke-linejoin="round"><title>Lavalleja</title></polygon><polygon points="1317.2,514.2 1326.5,511.15 1334.87,505.57 1343.24,497.2 1351.61,490.22 1359.98,484.64 1369.7,481.9 1366.95,490.22 1371.14,495.8 1371.14,506.96 1372.53,520.92 1376.72,534.87 1385.09,544.63 1392.1,546 1385.09,554.4 1379.51,565.56 1376.72,579.51 1368.35,590.67 1359.98,599.04 1354.4,607.41 1355.79,615.78 1346.03,622.76 1334.87,629.73 1323.71,636.71 1315.33,645.08 1304.17,650.66 1294.41,654.84 1284.2,660 1286.04,646.47 1284.64,632.52 1287.43,618.57 1291.62,607.41 1290.22,590.67 1291.62,573.93 1289.3,567.2 1294.41,557.19 1297.2,546.03 1299.99,533.47 1308.36,523.71 1317.2,514.2" fill="#947fc8" stroke="#ece8f8" stroke-width="1" stroke-linejoin="round"><title>Rocha</title></polygon><polygon points="1200,642.8 1213.93,639.73 1219.51,634.15 1230.67,628.57 1244.62,624.39 1258.57,617.41 1261.36,606.25 1265.55,595.09 1269.73,583.93 1275.31,579.74 1285.08,572.77 1289.3,567.2 1291.62,573.93 1290.22,590.67 1291.62,607.41 1287.43,618.57 1284.64,632.52 1286.04,646.47 1284.2,660 1275.31,664.84 1264.15,670.42 1255.78,676 1248.81,680.19 1239.04,673.21 1227.88,670.42 1219.51,671.82 1211.14,664.84 1206.1,660.4 1203.88,655.85 1202.21,650.27 1200,642.8" fill="#6b5a90" stroke="#ece8f8" stroke-width="1" stroke-linejoin="round"><title>Maldonado</title></polygon><polygon points="1113.5,614 1117.39,614 1122.41,612.88 1127.99,615.11 1134.69,616.23 1139.15,611.21 1143.62,604.51 1149.2,601.72 1155.89,603.95 1162.59,604.51 1169.29,600.04 1175.98,597.81 1187.4,596.5 1187.14,602.28 1190.49,610.09 1192.72,616.79 1193.84,623.48 1192.72,627.95 1196.07,632.41 1198.3,639.11 1200,642.8 1202.21,650.27 1203.88,655.85 1206.1,660.4 1201,661.4 1193.8,661.4 1187.1,659.8 1180.4,657.5 1171.5,659.2 1164.8,660.9 1158,663.5 1153,664.5 1148,664 1146.96,658.08 1135.8,658.3 1124.64,657.52 1117.9,657 1119.06,655.85 1116.83,652.5 1112.37,649.15 1107.9,644.69 1107.9,639.11 1111.25,634.64 1115.71,630.18 1115.71,624.6 1114.6,619.02 1113.5,614" fill="#42345f" stroke="#ece8f8" stroke-width="1" stroke-linejoin="round"><title>Canelones</title></polygon><polygon points="1117.9,657 1124.64,657.52 1135.8,658.3 1146.96,658.08 1148,664 1146.5,669 1142.5,674.8 1138,677 1133.6,673 1124.6,668 1116.8,663 1113.5,661.4" fill="#6b5a90" stroke="#ece8f8" stroke-width="1" stroke-linejoin="round"><title>Montevideo</title></polygon><polyline points="1407.4,432 1397.63,439.51 1396.24,447.88 1386.47,459.04 1375.31,464.62 1369.73,470.2 1369.7,481.9" fill="none" stroke="#ece8f8" stroke-width="1" stroke-linejoin="round" stroke-linecap="round"/><polyline points="1048.3,477.7 1056.72,484.63 1065.09,486.03 1074.85,493 1084.62,494.4 1090.2,502.77 1098.57,512.53 1104,518.2" fill="none" stroke="#ece8f8" stroke-width="1" stroke-linejoin="round" stroke-linecap="round"/><polyline points="1104,518.2 1105.55,533.46 1109.73,547.41 1113.92,558.57 1112.5,561.4" fill="none" stroke="#ece8f8" stroke-width="1" stroke-linejoin="round" stroke-linecap="round"/><polyline points="1112.5,561.4 1104,558.5 1097,555.8 1090,561 1083,566 1076,571 1064,570.5 1052.5,569.7" fill="none" stroke="#ece8f8" stroke-width="1" stroke-linejoin="round" stroke-linecap="round"/><polyline points="1048.3,477.7 1042.77,488.82 1031.61,499.98 1028.82,505.56 1034.4,513.93 1039.98,525.09 1045.56,533.46 1042.77,544.62 1048.35,555.78 1052.5,569.7" fill="none" stroke="#ece8f8" stroke-width="1" stroke-linejoin="round" stroke-linecap="round"/><polyline points="1407.4,432 1397.63,436.72 1386.47,438.11 1375.31,437.28 1361.36,439.51 1350.2,440.9 1340.44,435.32 1332.06,436.72 1330.67,443.69 1319.51,438.11 1305.56,435.32 1294.4,439.51 1286.03,442.3 1276.26,446.48 1269.29,445.09 1260.92,449.27 1251.15,454.85 1242.78,459.04 1241.4,466" fill="none" stroke="#ece8f8" stroke-width="1" stroke-linejoin="round" stroke-linecap="round"/><polyline points="1369.7,481.9 1359.98,484.64 1351.61,490.22 1343.24,497.2 1334.87,505.57 1326.5,511.15 1317.2,514.2" fill="none" stroke="#ece8f8" stroke-width="1" stroke-linejoin="round" stroke-linecap="round"/><polyline points="1317.2,514.2 1308.79,505.8 1300.42,504.41 1292.05,509.99 1283.68,512.78 1272.52,509.99 1264.15,505.8 1255.78,500.22 1247.41,504.41 1236.25,503.01 1232,509.5" fill="none" stroke="#ece8f8" stroke-width="1" stroke-linejoin="round" stroke-linecap="round"/><polyline points="1230.7,475.1 1232.06,489.06 1230.67,503.01 1232,509.5" fill="none" stroke="#ece8f8" stroke-width="1" stroke-linejoin="round" stroke-linecap="round"/><polyline points="1230.7,475.1 1241.4,466" fill="none" stroke="#ece8f8" stroke-width="1" stroke-linejoin="round" stroke-linecap="round"/><circle cx="1155.6" cy="241.1" r="0.9" fill="#ffffff"/><circle cx="1160.2" cy="245.1" r="0.9" fill="#ffffff"/><circle cx="1164.3" cy="248.8" r="0.9" fill="#ffffff"/><text x="1054" y="124.58" font-size="10.5" text-anchor="middle" fill="#c8c8c8" stroke="#353737" stroke-opacity="0.72" stroke-width="2" paint-order="stroke" stroke-linejoin="round">Uruguaiana</text><text x="969.3" y="294.78" font-size="10.5" text-anchor="middle" fill="#c8c8c8" stroke="#353737" stroke-opacity="0.72" stroke-width="2" paint-order="stroke" stroke-linejoin="round">Concordia</text><text x="922.7" y="469.28" font-size="10.5" text-anchor="middle" fill="#c8c8c8" stroke="#353737" stroke-opacity="0.72" stroke-width="2" paint-order="stroke" stroke-linejoin="round">Gualeguaychú</text><text x="1352.2" y="115.78" font-size="10.5" text-anchor="middle" fill="#c8c8c8" stroke="#353737" stroke-opacity="0.72" stroke-width="2" paint-order="stroke" stroke-linejoin="round">Santa María</text><text x="1476.6" y="112.58" font-size="10.5" text-anchor="middle" fill="#c8c8c8" stroke="#353737" stroke-opacity="0.72" stroke-width="2" paint-order="stroke" stroke-linejoin="round">Santa Cruz</text><text x="1476.6" y="123.98" font-size="10.5" text-anchor="middle" fill="#c8c8c8" stroke="#353737" stroke-opacity="0.72" stroke-width="2" paint-order="stroke" stroke-linejoin="round">do Sul</text><text x="1487.3" y="336.05" font-size="11.8" text-anchor="middle" fill="#c8c8c8" stroke="#353737" stroke-opacity="0.72" stroke-width="2" paint-order="stroke" stroke-linejoin="round">Pelotas</text><text x="1507.5" y="364.89" font-size="10.8" text-anchor="middle" fill="#c8c8c8" stroke="#353737" stroke-opacity="0.72" stroke-width="2" paint-order="stroke" stroke-linejoin="round">Río Grande</text><text x="1194.7" y="244.48" font-size="10.5" text-anchor="middle" fill="#c8c8c8" stroke="#353737" stroke-opacity="0.72" stroke-width="2" paint-order="stroke" stroke-linejoin="round">Rivera</text><text x="1154" y="330.08" font-size="10.5" text-anchor="middle" fill="#b8b8b8" stroke="#353737" stroke-opacity="0.72" stroke-width="2" paint-order="stroke" stroke-linejoin="round">Tacuarembó</text><text x="1319.5" y="400.18" font-size="10.5" text-anchor="middle" fill="#d0d0d0" stroke="#353737" stroke-opacity="0.72" stroke-width="2" paint-order="stroke" stroke-linejoin="round">Melo</text><text x="1393.5" y="521.28" font-size="10.5" text-anchor="middle" fill="#c8c8c8" stroke="#353737" stroke-opacity="0.72" stroke-width="2" paint-order="stroke" stroke-linejoin="round">Santa Vitória</text><text x="1393.5" y="532.78" font-size="10.5" text-anchor="middle" fill="#c8c8c8" stroke="#353737" stroke-opacity="0.72" stroke-width="2" paint-order="stroke" stroke-linejoin="round">do Palmar</text><text x="935.8" y="638.5" font-size="12.5" text-anchor="middle" fill="#c8c8c8" stroke="#353737" stroke-opacity="0.72" stroke-width="2" paint-order="stroke" stroke-linejoin="round">Buenos</text><text x="935.8" y="653" font-size="12.5" text-anchor="middle" fill="#c8c8c8" stroke="#353737" stroke-opacity="0.72" stroke-width="2" paint-order="stroke" stroke-linejoin="round">Aires</text><text x="975" y="679.26" font-size="11" text-anchor="middle" fill="#c8c8c8" stroke="#353737" stroke-opacity="0.72" stroke-width="2" paint-order="stroke" stroke-linejoin="round">La Plata</text><text x="896.7" y="732.28" font-size="10.5" text-anchor="middle" fill="#c8c8c8" stroke="#353737" stroke-opacity="0.72" stroke-width="2" paint-order="stroke" stroke-linejoin="round">San Miguel</text><text x="896.7" y="743.78" font-size="10.5" text-anchor="middle" fill="#c8c8c8" stroke="#353737" stroke-opacity="0.72" stroke-width="2" paint-order="stroke" stroke-linejoin="round">del Monte</text><text x="1137.2" y="675.61" font-size="12.8" text-anchor="middle" fill="#d4d4d4" stroke="#353737" stroke-opacity="0.72" stroke-width="2" paint-order="stroke" stroke-linejoin="round">Montevideo</text><text x="1403" y="115.66" font-size="11" text-anchor="middle" fill="#7d8283" letter-spacing="1.5">RÍO</text><text x="1403" y="128.76" font-size="11" text-anchor="middle" fill="#7d8283" letter-spacing="1.5">GRANDE</text><text x="1403" y="141.96" font-size="11" text-anchor="middle" fill="#7d8283" letter-spacing="1.5">DEL SUR</text><text x="860.7" y="361.78" font-size="10.5" text-anchor="middle" fill="#7d8283" letter-spacing="1.5">ENTRE</text><text x="860.7" y="375.18" font-size="10.5" text-anchor="middle" fill="#7d8283" letter-spacing="1.5">RIOS</text><text x="1093.2" y="713.96" font-size="11" text-anchor="middle" fill="#7d8283" letter-spacing="1.5">Río</text><text x="1093.2" y="726.96" font-size="11" text-anchor="middle" fill="#7d8283" letter-spacing="1.5">de la</text><text x="1093.2" y="740.16" font-size="11" text-anchor="middle" fill="#7d8283" letter-spacing="1.5">Plata</text><text x="1443" y="428.42" font-size="9.5" text-anchor="middle" fill="#7a7f80">Lagoa</text><text x="1443" y="438.62" font-size="9.5" text-anchor="middle" fill="#7a7f80">Mirim</text><text x="1139.2" y="473.7" font-size="14.6" font-weight="bold" textLength="88.4" lengthAdjust="spacing" fill="#83818e" stroke="#6a6877" stroke-width="0.9">URUGUAY</text><text x="1064.8" y="206.2" font-size="15.3" font-weight="bold" text-anchor="middle" fill="#ffffff" stroke="#26222e" stroke-width="2.2" paint-order="stroke" stroke-linejoin="round">3</text><text x="1059.2" y="282.1" font-size="15.3" font-weight="bold" text-anchor="middle" fill="#ffffff" stroke="#26222e" stroke-width="2.2" paint-order="stroke" stroke-linejoin="round">6</text><text x="1031" y="361.1" font-size="15.3" font-weight="bold" text-anchor="middle" fill="#ffffff" stroke="#26222e" stroke-width="2.2" paint-order="stroke" stroke-linejoin="round">16</text><text x="1220.5" y="298.9" font-size="15.3" font-weight="bold" text-anchor="middle" fill="#ffffff" stroke="#26222e" stroke-width="2.2" paint-order="stroke" stroke-linejoin="round">2</text><text x="1172.8" y="365.8" font-size="15.3" font-weight="bold" text-anchor="middle" fill="#ffffff" stroke="#26222e" stroke-width="2.2" paint-order="stroke" stroke-linejoin="round">2</text><text x="1302.3" y="401.6" font-size="15.3" font-weight="bold" text-anchor="middle" fill="#ffffff" stroke="#26222e" stroke-width="2.2" paint-order="stroke" stroke-linejoin="round">12</text><text x="1022.4" y="436.4" font-size="15.3" font-weight="bold" text-anchor="middle" fill="#ffffff" stroke="#26222e" stroke-width="2.2" paint-order="stroke" stroke-linejoin="round">15</text><text x="993.1" y="517.4" font-size="15.3" font-weight="bold" text-anchor="middle" fill="#ffffff" stroke="#26222e" stroke-width="2.2" paint-order="stroke" stroke-linejoin="round">17</text><text x="1000.9" y="585.4" font-size="15.3" font-weight="bold" text-anchor="middle" fill="#ffffff" stroke="#26222e" stroke-width="2.2" paint-order="stroke" stroke-linejoin="round">42</text><text x="1086.9" y="605" font-size="15.3" font-weight="bold" text-anchor="middle" fill="#ffffff" stroke="#26222e" stroke-width="2.2" paint-order="stroke" stroke-linejoin="round">19</text><text x="1149.4" y="464.4" font-size="15.3" font-weight="bold" text-anchor="middle" fill="#ffffff" stroke="#26222e" stroke-width="2.2" paint-order="stroke" stroke-linejoin="round">2</text><text x="1164.6" y="546.6" font-size="15.3" font-weight="bold" text-anchor="middle" fill="#ffffff" stroke="#26222e" stroke-width="2.2" paint-order="stroke" stroke-linejoin="round">6</text><text x="1245.2" y="562.8" font-size="15.3" font-weight="bold" text-anchor="middle" fill="#ffffff" stroke="#26222e" stroke-width="2.2" paint-order="stroke" stroke-linejoin="round">1</text><text x="1158.4" y="630.6" font-size="15.3" font-weight="bold" text-anchor="middle" fill="#ffffff" stroke="#26222e" stroke-width="2.2" paint-order="stroke" stroke-linejoin="round">343</text><text x="1255.2" y="632.7" font-size="15.3" font-weight="bold" text-anchor="middle" fill="#ffffff" stroke="#26222e" stroke-width="2.2" paint-order="stroke" stroke-linejoin="round">37</text><text x="1133" y="661.3" font-size="15.3" font-weight="bold" text-anchor="middle" fill="#ffffff" stroke="#26222e" stroke-width="2.2" paint-order="stroke" stroke-linejoin="round">635</text><text x="1332" y="568.2" font-size="15.3" font-weight="bold" text-anchor="middle" fill="#ffffff" stroke="#26222e" stroke-width="2.2" paint-order="stroke" stroke-linejoin="round">11</text><rect x="1403.2" y="74.6" width="121.5" height="29.8" fill="#2a2a2a" stroke="#4a8fdc" stroke-width="1"/><rect x="1432.9" y="74.6" width="1" height="29.8" fill="#4a8fdc"/><rect x="1462.9" y="74.6" width="1" height="29.8" fill="#4a8fdc"/><rect x="1492.8" y="74.6" width="1" height="29.8" fill="#4a8fdc"/><path d="M1412.2,87.8 L1419.1,80.9 L1426,87.8 M1413.6,86.6 V94.6 H1417 V90.6 H1421 V94.6 H1424.6 V86.6 M1414.6,84.6 V81.6 H1416.4 V83" fill="none" stroke="#4a8fdc" stroke-width="1.1" stroke-linejoin="round" stroke-linecap="round"/><path d="M1447.4,82.5 H1456" fill="none" stroke="#4a8fdc" stroke-width="1.1" stroke-linejoin="round" stroke-linecap="round"/><rect x="1442.5" y="81.6" width="1.8" height="1.8" fill="none" stroke="#4a8fdc" stroke-width="1.1" stroke-linejoin="round" stroke-linecap="round"/><path d="M1447.4,86.5 H1456" fill="none" stroke="#4a8fdc" stroke-width="1.1" stroke-linejoin="round" stroke-linecap="round"/><circle cx="1443.4" cy="86.5" r="0.9" fill="none" stroke="#4a8fdc" stroke-width="1.1" stroke-linejoin="round" stroke-linecap="round"/><path d="M1447.4,90.6 H1456" fill="none" stroke="#4a8fdc" stroke-width="1.1" stroke-linejoin="round" stroke-linecap="round"/><rect x="1442.5" y="89.69999999999999" width="1.8" height="1.8" fill="none" stroke="#4a8fdc" stroke-width="1.1" stroke-linejoin="round" stroke-linecap="round"/><path d="M1447.4,94.6 H1456" fill="none" stroke="#4a8fdc" stroke-width="1.1" stroke-linejoin="round" stroke-linecap="round"/><path d="M1442.4,95.39999999999999 L1443.4,93.6 L1444.4,95.39999999999999 Z" fill="none" stroke="#4a8fdc" stroke-width="1.1" stroke-linejoin="round" stroke-linecap="round"/><path d="M1479.1,81.2 L1486.2,85.3 L1479.1,89.4 L1472,85.3 Z M1472,88.5 L1479.1,92.6 L1486.2,88.5 M1472,91.7 L1479.1,95.8 L1486.2,91.7" fill="none" stroke="#4a8fdc" stroke-width="1.1" stroke-linejoin="round" stroke-linecap="round"/><rect x="1501" y="80.4" width="6.7" height="6.5" fill="none" stroke="#4a8fdc" stroke-width="1.1" stroke-linejoin="round" stroke-linecap="round"/><rect x="1510.2" y="80.4" width="6.7" height="6.5" fill="none" stroke="#4a8fdc" stroke-width="1.1" stroke-linejoin="round" stroke-linecap="round"/><rect x="1501" y="89.2" width="6.7" height="6.5" fill="none" stroke="#4a8fdc" stroke-width="1.1" stroke-linejoin="round" stroke-linecap="round"/><rect x="1510.2" y="89.2" width="6.7" height="6.5" fill="none" stroke="#4a8fdc" stroke-width="1.1" stroke-linejoin="round" stroke-linecap="round"/><path d="M1503,81 v3 h3 M1512,83 h3 v2.5 h-2.5 M1502,94.5 l2.5,-3 l2,2 M1512,92 h4.5 M1514,92 v3" fill="none" stroke="#4a8fdc" stroke-width="1.1" stroke-linejoin="round" stroke-linecap="round"/><rect x="1492" y="709" width="33" height="62" fill="#242424"/><rect x="1492" y="740" width="33" height="1" fill="#3a3a3a"/><path d="M1500.5,724.5 H1516.5 M1508.5,716.5 V732.5 M1500.5,755.5 H1516.5" stroke="#9a9a9a" stroke-width="1" fill="none"/><rect x="800" y="786" width="741" height="16" fill="#242424" opacity="0.68"/><text x="806.2" y="797.2" font-size="11.6" textLength="212.5" lengthAdjust="spacingAndGlyphs" fill="#d4d4d4">Esri, HERE, Garmin, FAO, NOAA, USGS</text><text x="1447.8" y="797.2" font-size="11.6" textLength="87.6" lengthAdjust="spacingAndGlyphs" fill="#d4d4d4">Powered by Esri</text><rect x="800" y="9" width="741" height="50" fill="#222222"/><text x="965.2" y="37.8" font-size="22.61" textLength="410.4" lengthAdjust="spacingAndGlyphs" fill="#dcd9f0" font-weight="bold">Mapa con la distribución de personas</text></svg></div>
<div style="position:absolute;left:1916px;top:0;width:1px;height:896px;background:#4a4a4a"></div>
</body></html>
